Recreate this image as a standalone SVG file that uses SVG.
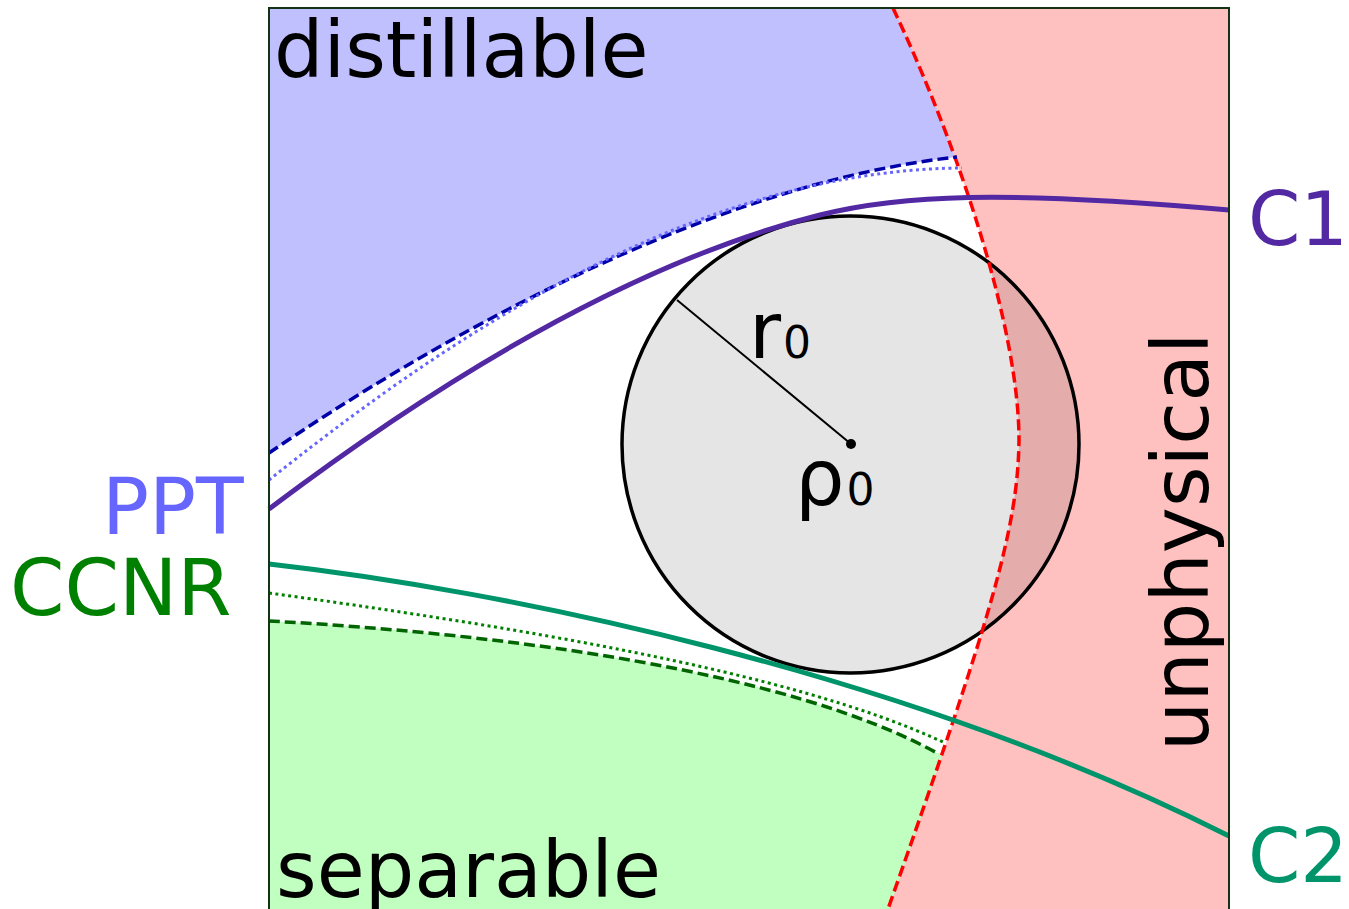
<svg xmlns="http://www.w3.org/2000/svg" width="1349" height="909" viewBox="0 0 1349 909">
<style>
text{font-family:"DejaVu Sans","Liberation Sans",sans-serif;font-size:78px}
.side{font-size:75px}
.curve{fill:none}
.dash{stroke-dasharray:11,5;stroke-width:3.5}
.dot{stroke-dasharray:3,3.5;stroke-width:3}
</style>
<rect width="1349" height="909" fill="#ffffff"/>
<g id="regions">
<path id="distillable-region" d="M269 8 L1000 8 L1000 157 L957 157 C700 185 420 350 269 453 Z" fill="#c0c0ff"/>
<path id="separable-region" d="M269 621 C510 634 790 672 937 753 L980 753 L980 912 L269 912 Z" fill="#c0ffc0"/>
<path id="unphysical-region" d="M893 8 C960 150 1019 330 1019 440 C1018 530 990 620 888 912 L1229 912 L1229 8 Z" fill="#ffc0c0"/>
</g>
<g id="ball">
<circle cx="850.5" cy="444.5" r="228.5" fill="#000000" fill-opacity="0.1" stroke="#000000" stroke-width="3.5"/>
<line x1="677" y1="300" x2="851" y2="444" stroke="#000000" stroke-width="2"/>
<circle cx="851" cy="444" r="5" fill="#000000"/>
</g>
<g id="connectors">
<path id="red-boundary" class="curve dash" stroke="#ff0000" stroke-width="3" d="M893 8 C960 150 1019 330 1019 440 C1018 530 990 620 888 909"/>
<path id="ppt-dashed" class="curve dash" stroke="#0000a8" d="M269 453 C420 350 700 185 957 157"/>
<path id="ppt-dotted" class="curve dot" stroke="#6666ff" d="M269 480 C420 360 680 170 962 168"/>
<path id="c1" class="curve" stroke="#5229a3" stroke-width="5" d="M269 509 C420 395 620 265 820 215 C900 195 1000 190 1229 210"/>
<path id="c2" class="curve" stroke="#00946a" stroke-width="5" d="M269 564 C500 590 900 670 1229 836"/>
<path id="ccnr-dotted" class="curve dot" stroke="#008000" d="M269 593 C500 625 790 670 945 743"/>
<path id="ccnr-dashed" class="curve dash" stroke="#006400" d="M269 621 C510 634 790 672 937 753"/>
</g>
<g id="frame">
<path d="M269 912 L269 8 L1229 8 L1229 912" fill="none" stroke="#143214" stroke-width="2"/>
</g>
<g id="labels">
<text id="t-distillable" x="274" y="77" fill="#000000">distillable</text>
<text id="t-separable" x="276" y="897" fill="#000000">separable</text>
<text id="t-unphysical" transform="translate(1208,751) rotate(-90)" fill="#000000">unphysical</text>
<text id="t-c1" class="side" x="1248" y="245" fill="#5229a3">C1</text>
<text id="t-c2" class="side" x="1248" y="882" fill="#00946a">C2</text>
<text id="t-ppt" x="102" y="534" fill="#6666ff">PPT</text>
<text id="t-ccnr" x="10" y="615" fill="#008000">CCNR</text>
<text id="t-r0" x="749" y="358" fill="#000000">r<tspan font-size="44" dx="2">0</tspan></text>
<text id="t-rho0" x="795" y="505" fill="#000000">ρ<tspan font-size="44" dx="2">0</tspan></text>
</g>
</svg>
